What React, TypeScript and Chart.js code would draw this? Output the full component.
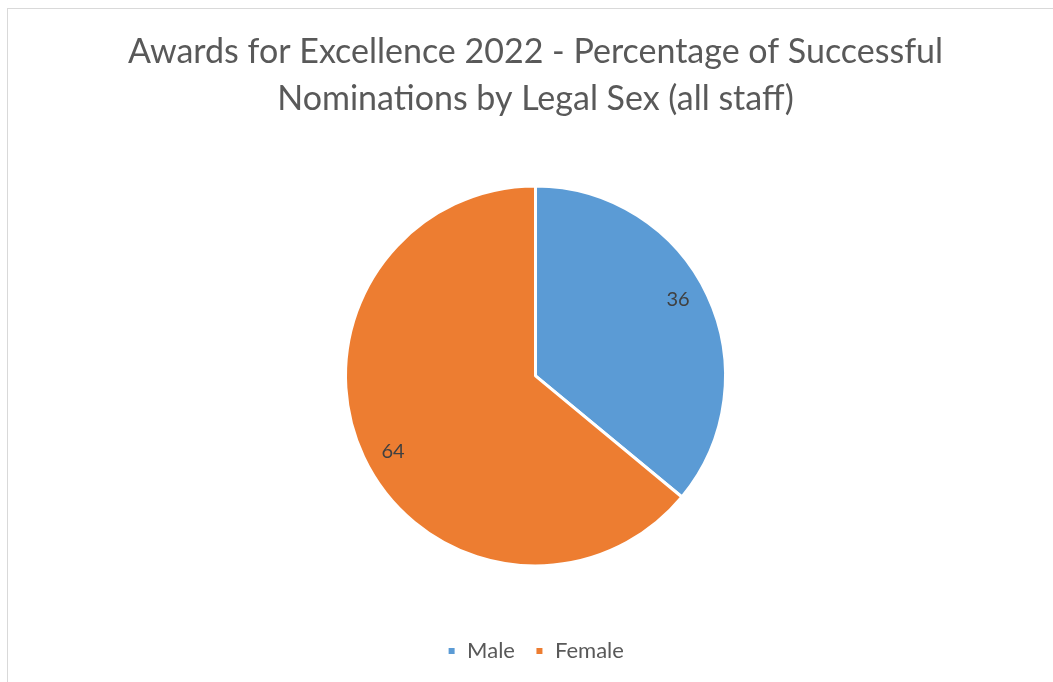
import React, { useEffect, useRef } from "react";
import { Chart, registerables } from "chart.js";

Chart.register(...registerables);

const titleLines = ["Awards for Excellence 2022 - Percentage of Successful", "Nominations by Legal Sex (all staff)"];
const categories = ["Male", "Female"];
const values = [36, 64];
const colors = ["#5B9BD5", "#ED7D31"];

const FONT = "Lato, 'Open Sans', sans-serif";

const labelPlugin = {
  id: "sliceLabels",
  afterDatasetsDraw(chart: any) {
    const ctx = chart.ctx;
    const meta = chart.getDatasetMeta(0);
    ctx.save();
    ctx.font = `20px ${FONT}`;
    ctx.fillStyle = "#404040";
    ctx.textAlign = "center";
    ctx.textBaseline = "middle";
    meta.data.forEach((arc: any, i: number) => {
      const { x, y, startAngle, endAngle, outerRadius } = arc.getProps(["x", "y", "startAngle", "endAngle", "outerRadius"], true);
      const mid = (startAngle + endAngle) / 2 - 0.05;
      const r = outerRadius * 0.85;
      ctx.fillText(String(chart.data.datasets[0].data[i]), x + Math.cos(mid) * r, y + Math.sin(mid) * r);
    });
    ctx.restore();
  },
};

export default function App() {
  const ref = useRef<HTMLCanvasElement>(null);
  useEffect(() => {
    document.body.style.margin = "0";
    document.body.style.overflow = "hidden";
    const chart = new Chart(ref.current!, {
      type: "pie",
      data: {
        labels: categories,
        datasets: [
          {
            data: values,
            backgroundColor: colors,
            borderColor: "#ffffff",
            borderWidth: 3,
          },
        ],
      },
      options: {
        animation: false,
        responsive: false,
        radius: 190,
        layout: { padding: { left: 18, right: 0, top: 0, bottom: 10 } },
        plugins: {
          tooltip: { enabled: false },
          title: {
            display: true,
            text: titleLines,
            color: "#595959",
            font: { family: FONT, size: 34, weight: "normal", lineHeight: 1.38 },
            padding: { top: 29, bottom: 9 },
          },
          legend: {
            position: "bottom",
            labels: {
              color: "#595959",
              font: { family: FONT, size: 22 },
              usePointStyle: true,
              pointStyle: "rect",
              boxWidth: 9,
              boxHeight: 9,
              padding: 20,
            },
          },
        },
      },
      plugins: [labelPlugin],
    });
    return () => chart.destroy();
  }, []);
  return (
    <div style={{ position: "relative", width: 1053, height: 682, overflow: "hidden", background: "#fff" }}>
      <canvas ref={ref} width={1053} height={682} style={{ position: "absolute", left: 0, top: 0 }} />
      <div
        style={{
          position: "absolute",
          left: 7,
          top: 8,
          width: 1100,
          height: 700,
          border: "1px solid #d9d9d9",
          pointerEvents: "none",
        }}
      />
    </div>
  );
}
